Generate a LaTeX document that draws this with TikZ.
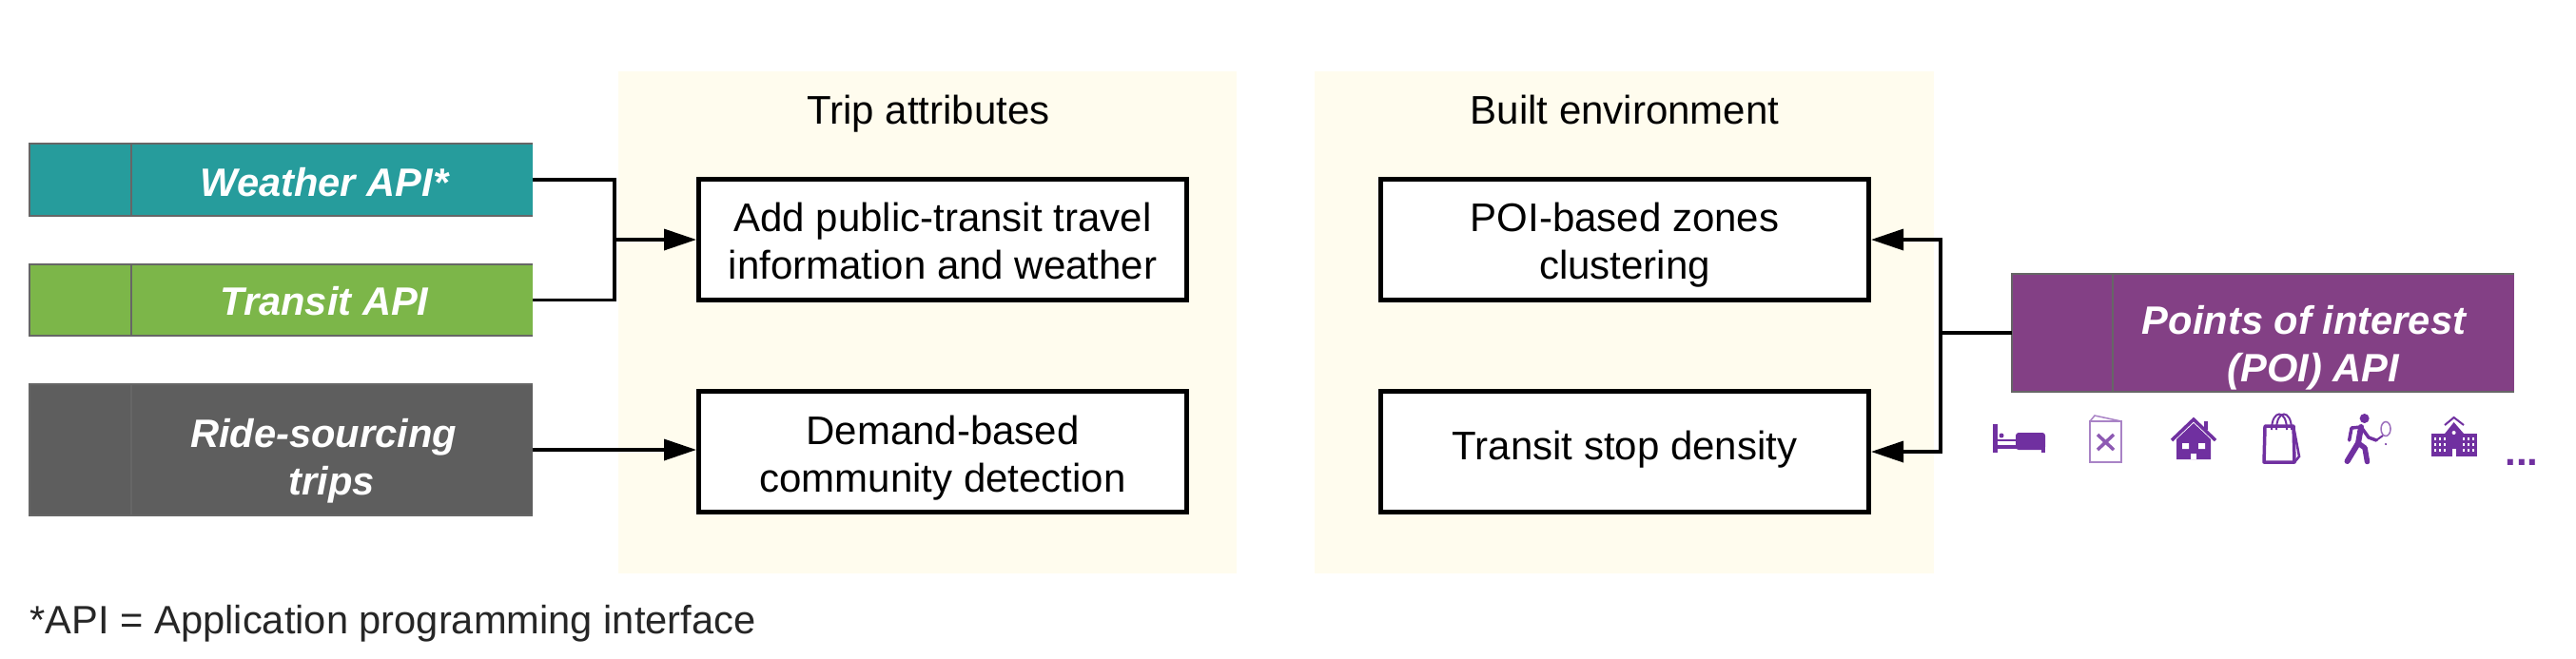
\documentclass[tikz,border=0pt]{standalone}
\usepackage{fontspec}
\setmainfont{Liberation Sans}
\usetikzlibrary{arrows.meta}

\definecolor{panelcream}{HTML}{FFFCEE}
\definecolor{apiteal}{HTML}{269C9C}
\definecolor{apigreen}{HTML}{7CB649}
\definecolor{apigray}{HTML}{5E5E5E}
\definecolor{apipurple}{HTML}{834085}
\definecolor{apiborder}{HTML}{666666}
\definecolor{iconpurple}{HTML}{7030A0}
\definecolor{notegray}{HTML}{262626}

\tikzset{
    bodyfont/.style={font=\fontsize{11.95}{14.3}\selectfont},
    panel/.style={rectangle, fill=panelcream, inner sep=0, outer sep=0, minimum width=#1, minimum height=5.28cm},
    apicell/.style={rectangle, inner sep=0, outer sep=0, text=white, align=center, minimum height=#1,
        font=\fontsize{11.85}{14.3}\selectfont\bfseries\itshape},
    flowbox/.style={rectangle, draw, line width=0.05cm, fill=white, align=center, inner sep=0,
        minimum height=1.27cm, bodyfont},
    apiline/.style={draw=apiborder, line width=0.025cm},
    flow/.style={draw, line width=0.035cm},
    flowtip/.style={flow, -{Triangle[length=0.34cm, width=0.22cm]}}
}

\begin{document}
\begin{tikzpicture}
    \useasboundingbox (0, 0) rectangle (27.08, -6.92);

    \node[panel=6.50cm] (tripspanel) at (9.75, -3.39) {};
    \node[panel=6.51cm] (builtpanel) at (17.075, -3.39) {};
    \node[bodyfont, anchor=base] (tripstitle) at (9.76, -1.30) {Trip attributes};
    \node[bodyfont, anchor=base] (builttitle) at (17.08, -1.30) {Built environment};

    \node[apicell=0.76cm, fill=apiteal, minimum width=1.07cm] (weatherkey) at (0.845, -1.89) {};
    \node[apicell=0.76cm, fill=apiteal, minimum width=4.22cm] (weather) at (3.49, -1.89) {\rule{0pt}{0.35cm}Weather API*\hspace*{0.16cm}};
    \node[apicell=0.75cm, fill=apigreen, minimum width=1.07cm] (transitkey) at (0.845, -3.155) {};
    \node[apicell=0.75cm, fill=apigreen, minimum width=4.22cm] (transit) at (3.49, -3.155) {\rule{0pt}{0.33cm}Transit API\hspace*{0.16cm}};
    \node[apicell=1.38cm, fill=apigray, minimum width=1.07cm] (ridekey) at (0.845, -4.73) {};
    \node[apicell=1.38cm, fill=apigray, minimum width=4.22cm] (ride) at (3.49, -4.73) {\rule{0pt}{0.53cm}Ride-sourcing\hspace*{0.18cm}\\trips};
    \node[apicell=1.24cm, fill=apipurple, minimum width=1.06cm] (poikey) at (21.68, -3.5) {};
    \node[apicell=1.24cm, fill=apipurple, minimum width=4.22cm] (poi) at (24.32, -3.5) {\rule{0pt}{0.61cm}Points of interest\hspace*{0.2cm}\\(POI) API};

    \foreach \n in {weather, transit, ride, poi} {
        \draw[apiline] (\n.north east) -- (\n key.north west) -- (\n key.south west) -- (\n.south east);
        \draw[apiline] (\n key.north east) -- (\n key.south east);
    }

    \node[flowbox, minimum width=5.13cm] (info) at (9.91, -2.52) {\rule{0pt}{0.34cm}Add public-transit travel\\information and weather};
    \node[flowbox, minimum width=5.13cm] (demand) at (9.91, -4.75) {\rule{0pt}{0.43cm}Demand-based\\community detection};
    \node[flowbox, minimum width=5.13cm] (zones) at (17.08, -2.52) {\rule{0pt}{0.41cm}POI-based zones\\clustering};
    \node[flowbox, minimum width=5.13cm] (stops) at (17.08, -4.75) {\rule[-0.14cm]{0pt}{0.14cm}Transit stop density};

    \coordinate (leftbus) at (6.46, -2.52);
    \coordinate (rightbus) at (20.40, -3.5);

    \draw[flow] (weather.east) -| (leftbus) |- (transit.east);
    \draw[flowtip] (leftbus) -- (info.west);
    \draw[flowtip] (ride.east) -- (ride.east -| demand.west);
    \draw[flow] (poikey.west) -- (rightbus);
    \draw[flowtip] (rightbus) |- (zones.east);
    \draw[flowtip] (rightbus) |- (stops.east);

    \node[font=\fontsize{11.85}{14.3}\selectfont, text=notegray, anchor=base west, inner sep=0] (note) at (0.31, -6.66) {*API = Application programming interface};
    \node[bodyfont, text=iconpurple, anchor=base] (moredots) at (26.51, -4.89) {\bfseries ...};

    % bed
    \fill[iconpurple] (20.95, -4.46) rectangle (21.00, -4.755);
    \fill[iconpurple] (21.00, -4.68) rectangle (21.20, -4.72);
    \fill[iconpurple] (21.04, -4.58) circle (0.025);
    \draw[iconpurple, line width=0.012cm] (21.00, -4.63) -- (21.19, -4.63);
    \fill[iconpurple, rounded corners=0.03cm] (21.19, -4.55) rectangle (21.50, -4.73);
    \fill[iconpurple] (21.46, -4.70) rectangle (21.50, -4.76);

    % menu
    \draw[iconpurple!60, line width=0.02cm] (21.97, -4.43) rectangle (22.30, -4.86);
    \draw[iconpurple!60, line width=0.015cm] (21.97, -4.43) -- (22.02, -4.37) -- (22.30, -4.43);
    \draw[iconpurple!80, line width=0.035cm] (22.05, -4.57) -- (22.22, -4.73) (22.22, -4.57) -- (22.05, -4.73);

    % house
    \fill[iconpurple] (22.88, -4.62) -- (23.06, -4.45) -- (23.24, -4.62) -- (23.24, -4.83) -- (22.88, -4.83) -- cycle;
    \draw[iconpurple, line width=0.035cm] (22.83, -4.63) -- (23.06, -4.41) -- (23.29, -4.63);
    \fill[iconpurple] (23.17, -4.43) rectangle (23.21, -4.52);
    \fill[white] (22.94, -4.66) rectangle (23.01, -4.72) (23.11, -4.66) rectangle (23.18, -4.72);
    \fill[white] (23.03, -4.77) rectangle (23.09, -4.83);

    % bag
    \draw[iconpurple, line width=0.035cm, line join=round] (23.81, -4.48) -- (24.11, -4.48) -- (24.12, -4.86) -- (23.80, -4.86) -- cycle;
    \draw[iconpurple, line width=0.025cm] (24.11, -4.48) -- (24.17, -4.80) -- (24.12, -4.86);
    \draw[iconpurple, line width=0.02cm] (23.88, -4.52) .. controls (23.88, -4.30) and (24.04, -4.30) .. (24.04, -4.52);
    \draw[iconpurple, line width=0.02cm] (23.93, -4.52) .. controls (23.93, -4.30) and (24.09, -4.30) .. (24.09, -4.52);

    % tennis player
    \fill[iconpurple] (24.856, -4.40) circle (0.05);
    \draw[iconpurple, line width=0.06cm, line cap=round, line join=round] (24.82, -4.49) -- (24.79, -4.66) -- (24.675, -4.85);
    \draw[iconpurple, line width=0.055cm, line cap=round, line join=round] (24.79, -4.66) -- (24.86, -4.71) -- (24.885, -4.855);
    \draw[iconpurple, line width=0.035cm, line cap=round, line join=round] (24.696, -4.63) -- (24.72, -4.50) -- (24.82, -4.49) -- (24.90, -4.60) -- (24.98, -4.63);
    \draw[iconpurple!70, line width=0.015cm] (25.08, -4.51) ellipse (0.05 and 0.075);
    \draw[iconpurple, line width=0.02cm] (25.05, -4.58) -- (24.98, -4.63);
    \fill[iconpurple] (25.08, -4.67) circle (0.012);

    % school
    \fill[iconpurple] (25.56, -4.56) rectangle (26.04, -4.80);
    \fill[iconpurple] (25.70, -4.56) -- (25.796, -4.44) -- (25.90, -4.56) -- cycle;
    \draw[iconpurple, line width=0.02cm] (25.70, -4.47) -- (25.796, -4.39) -- (25.90, -4.47);
    \foreach \x in {25.60, 25.65, 25.70, 25.90, 25.95, 26.00} {
        \foreach \y in {4.61, 4.67, 4.73} {
            \fill[white] (\x-0.012, -\y+0.015) rectangle (\x+0.012, -\y-0.015);
        }
    }
    \fill[white] (25.78, -4.72) rectangle (25.82, -4.80);
    \fill[white] (25.796, -4.55) circle (0.02);

\end{tikzpicture}
\end{document}
